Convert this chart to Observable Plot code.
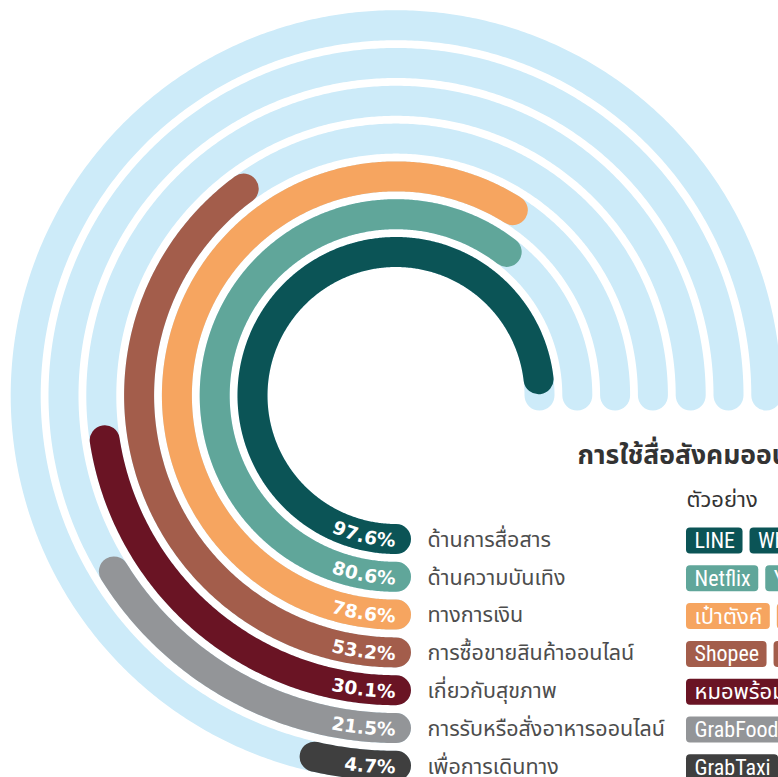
<!DOCTYPE html>
<html>
<head>
<meta charset="utf-8">
<script src="https://cdn.jsdelivr.net/npm/d3@7"></script>
<script src="https://cdn.jsdelivr.net/npm/@observablehq/plot@0.6"></script>
<style>
  html, body { margin: 0; padding: 0; background: #ffffff; overflow: hidden; }
  #chart svg { display: block; }
</style>
</head>
<body>
<div id="chart"></div>
<script>
// ---------------- DATA ----------------
const categories = [
  "ด้านการสื่อสาร",
  "ด้านความบันเทิง",
  "ทางการเงิน",
  "การซื้อขายสินค้าออนไลน์",
  "เกี่ยวกับสุขภาพ",
  "การรับหรือสั่งอาหารออนไลน์",
  "เพื่อการเดินทาง"
];
const values = [97.6, 80.6, 78.6, 53.2, 30.1, 21.5, 4.7];
const valueLabels = ["97.6%", "80.6%", "78.6%", "53.2%", "30.1%", "21.5%", "4.7%"];
const colors = ["#0b5456", "#60a69a", "#f6a560", "#a35d4b", "#6a1424", "#939598", "#3f3f3f"];
const examples = [
  ["LINE", "WhatsApp"],
  ["Netflix", "YouTube"],
  ["เป๋าตังค์", "TrueMoney"],
  ["Shopee", "Lazada"],
  ["หมอพร้อม", "ไทยชนะ"],
  ["GrabFood", "LINE MAN"],
  ["GrabTaxi", "Bolt"]
];
const titleText = "การใช้สื่อสังคมออนไลน์";
const exampleHeader = "ตัวอย่าง";
const scaleMax = 100;      // 100% = full sweep
const sweepDegrees = 270;  // three-quarter circle

// ---------------- LAYOUT ----------------
const W = 778, H = 777;
const cx = 395.5, cy = 395;
const r0 = 143.5, ringStep = 37.8, barWidth = 30;
const trackColor = "#cdebf9";
const n = categories.length;

const radius = d3.scaleLinear().domain([0, n - 1]).range([r0, r0 + (n - 1) * ringStep]);
const angle = d3.scaleLinear().domain([0, scaleMax]).range([0, sweepDegrees]);

// angle measured clockwise (on screen) from 6 o'clock; y axis points up
function polar(r, deg) {
  const a = deg * Math.PI / 180;
  return {x: -r * Math.sin(a), y: -r * Math.cos(a)};
}
function arcPoints(i, deg, extra) {
  const pts = [];
  const steps = Math.max(2, Math.ceil(deg * 2));
  for (let k = 0; k <= steps; k++) {
    pts.push({...polar(radius(i), deg * k / steps), i, ...extra});
  }
  return pts;
}
const px = (X) => X - cx;      // pixel -> data x
const py = (Y) => cy - Y;      // pixel -> data y

const tracks = categories.flatMap((c, i) => arcPoints(i, angle(scaleMax), {}));
const bars = categories.flatMap((c, i) => arcPoints(i, angle(values[i]), {color: colors[i]}));

// percentage labels placed character by character along each arc
const ctx = document.createElement("canvas").getContext("2d");
const pctFontSize = 18.5;
const pctFamily = "'DejaVu Sans', sans-serif";
ctx.font = `bold ${pctFontSize}px ${pctFamily}`;
const pctChars = [];
valueLabels.forEach((lab, i) => {
  const r = radius(i) + 1.5;
  let s = 0.5;
  for (const ch of [...lab].reverse()) {
    const w = ctx.measureText(ch).width;
    const sc = s + w / 2;
    s += w;
    const deg = sc / r * 180 / Math.PI;
    pctChars.push({...polar(r, deg), ch, rot: deg});
  }
});

// category labels
const labelX = 427;
const rowY = (i) => cy + radius(i); // pixel y of row i
const catLabels = categories.map((c, i) => ({x: px(labelX), y: py(rowY(i) + 1), text: c}));

// example tags
const tagFontSize = 22;
const tagFamily = "'Liberation Sans Narrow', 'Roboto Condensed', 'Arial Narrow', 'Noto Sans Thai', sans-serif";
ctx.font = `${tagFontSize}px ${tagFamily}`;
const tagStart = 686, tagPad = 8, tagGap = 7, tagH = 26;
const tagRects = [], tagTexts = [];
examples.forEach((list, i) => {
  let x = tagStart;
  const yc = rowY(i) + 2;
  list.forEach((t) => {
    const w = ctx.measureText(t).width + 2 * tagPad;
    tagRects.push({x1: px(x), x2: px(x + w), y1: py(yc - tagH / 2), y2: py(yc + tagH / 2), color: colors[i]});
    tagTexts.push({x: px(x + w / 2), y: py(yc), text: t});
    x += w + tagGap;
  });
});

const thaiFamily = "'Noto Sans Thai', 'Noto Sans', 'DejaVu Sans', sans-serif";

const chart = Plot.plot({
  width: W,
  height: H,
  margin: 0,
  x: {type: "linear", domain: [px(0), px(W)], axis: null},
  y: {type: "linear", domain: [py(H), py(0)], axis: null},
  style: {background: "#ffffff"},
  marks: [
    Plot.line(tracks, {x: "x", y: "y", z: "i", stroke: trackColor, strokeWidth: barWidth, strokeLinecap: "round", strokeLinejoin: "round", curve: "linear"}),
    Plot.line(bars, {x: "x", y: "y", z: "i", stroke: "color", strokeWidth: barWidth, strokeLinecap: "round", strokeLinejoin: "round", curve: "linear"}),
    Plot.text(pctChars, {x: "x", y: "y", text: "ch", rotate: "rot", fill: "white", fontSize: pctFontSize, fontWeight: "bold", fontFamily: pctFamily, textAnchor: "middle", lineAnchor: "middle"}),
    Plot.text(catLabels, {x: "x", y: "y", text: "text", fill: "#4d4d4d", fontSize: 21.5, fontFamily: thaiFamily, textAnchor: "start", lineAnchor: "middle"}),
    Plot.text([titleText], {x: px(577), y: py(455), text: (d) => d, fill: "#333333", fontSize: 26.5, fontWeight: "bold", fontFamily: tagFamily, textAnchor: "start", lineAnchor: "middle"}),
    Plot.text([exampleHeader], {x: px(686), y: py(499), text: (d) => d, fill: "#333333", fontSize: 22, fontFamily: tagFamily, textAnchor: "start", lineAnchor: "middle"}),
    Plot.rect(tagRects, {x1: "x1", x2: "x2", y1: "y1", y2: "y2", fill: "color", rx: 4}),
    Plot.text(tagTexts, {x: "x", y: "y", text: "text", fill: "white", fontSize: tagFontSize, fontFamily: tagFamily, textAnchor: "middle", lineAnchor: "middle"})
  ]
});
document.getElementById("chart").appendChild(chart);
</script>
</body>
</html>
